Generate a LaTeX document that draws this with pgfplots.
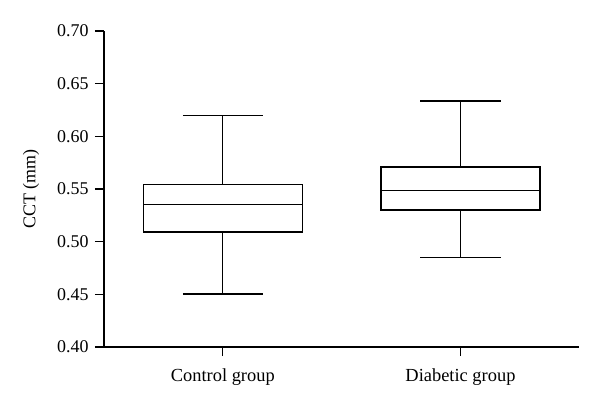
\documentclass[border=0pt]{standalone}
\usepackage{fontspec}
\setmainfont{Liberation Serif}
\usepackage{pgfplots}
\pgfplotsset{compat=1.18}
\usepgfplotslibrary{statistics}
\begin{document}
\begin{tikzpicture}
\path (-104bp,-60bp) rectangle (496bp,347bp);
\begin{axis}[
  at={(0,0)}, anchor=south west,
  scale only axis, width=475.3bp, height=316bp,
  xmin=0.5, xmax=2.5, ymin=0.40, ymax=0.70,
  boxplot/draw direction=y,
  axis x line*=bottom, axis y line*=left,
  axis line style={line width=1.3bp, black},
  xtick={1,2}, xticklabels={Control group, Diabetic group},
  ytick={0.40,0.45,...,0.701},
  yticklabel style={/pgf/number format/fixed, /pgf/number format/fixed zerofill, /pgf/number format/precision=2, xshift=-3bp},
  /pgf/number format/assume math mode=true,
  tick align=outside, major tick length=9bp,
  tick style={line width=1.3bp, black},
  ticklabel style={font=\fontsize{18}{20}\selectfont},
  xticklabel style={yshift=-9bp, font=\fontsize{18.5}{20}\selectfont},
  ylabel={CCT (mm)},
  every axis y label/.style={at={(rel axis cs:0,0.5)}, xshift=-73bp, rotate=90, anchor=center, font=\fontsize{18}{20}\selectfont},
  clip=false,
]
\addplot+[black, line width=1.3bp, solid, mark=none,
  boxplot prepared={lower whisker=0.4504, lower quartile=0.5093, median=0.5353,
    upper quartile=0.554, upper whisker=0.6195, draw position=1,
    box extend=0.67, whisker extend=0.337}] coordinates {};
\addplot+[black, line width=1.3bp, solid, mark=none,
  boxplot prepared={lower whisker=0.4849, lower quartile=0.5302, median=0.5486,
    upper quartile=0.571, upper whisker=0.6335, draw position=2,
    box extend=0.67, whisker extend=0.337}] coordinates {};
\end{axis}
\end{tikzpicture}
\end{document}
